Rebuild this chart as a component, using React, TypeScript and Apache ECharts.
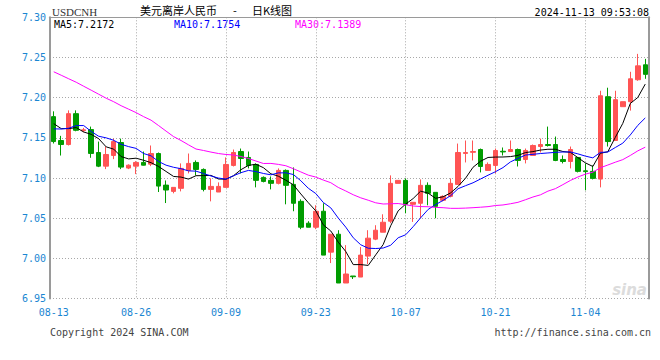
import React, { useEffect, useRef } from "react";
import * as echarts from "echarts";

const dates = [
  "08-13","08-14","08-15","08-16","08-17",
  "08-19","08-20","08-21","08-22","08-23","08-24",
  "08-26","08-27","08-28","08-29","08-30","08-31",
  "09-02","09-03","09-04","09-05","09-06","09-07",
  "09-09","09-10","09-11","09-12","09-13","09-14",
  "09-16","09-17","09-18","09-19","09-20","09-21",
  "09-23","09-24","09-25","09-26","09-27","09-28",
  "09-30","10-01","10-02","10-03","10-04","10-05",
  "10-07","10-08","10-09","10-10","10-11","10-12",
  "10-14","10-15","10-16","10-17","10-18","10-19",
  "10-21","10-22","10-23","10-24","10-25","10-26",
  "10-28","10-29","10-30","10-31","11-01","11-02",
  "11-04","11-05","11-06","11-07","11-08","11-09",
  "11-11","11-12","11-13",
];

const opens = [
  7.1764,7.1467,7.1417,7.1801,7.1590,7.1603,7.1318,7.1148,7.1281,7.1442,
  7.1124,7.1148,7.1194,7.1173,7.1305,7.0912,7.0834,7.0872,7.1095,7.1194,
  7.1107,7.0859,7.0826,7.0884,7.1157,7.1330,7.1256,7.1169,7.1008,7.0971,
  7.0934,7.1095,7.0921,7.0710,7.0438,7.0388,7.0587,7.0078,7.0301,6.9694,
  6.9781,6.9768,7.0029,7.0240,7.0326,7.0463,7.0934,7.0971,7.0673,7.0686,
  7.0909,7.0822,7.0723,7.0772,7.0921,7.1306,7.1320,7.1355,7.1095,7.1157,
  7.1333,7.1330,7.1355,7.1231,7.1281,7.1392,7.1417,7.1417,7.1231,7.1206,
  7.1256,7.1090,7.1083,7.0987,7.2012,7.1467,7.1888,7.1950,7.2223,7.2409,
];
const closes = [
  7.1454,7.1417,7.1801,7.1594,7.1600,7.1306,7.1148,7.1293,7.1454,7.1136,
  7.1160,7.1194,7.1160,7.1305,7.0900,7.0851,7.0884,7.1120,7.1182,7.1107,
  7.0859,7.0896,7.0896,7.1169,7.1318,7.1243,7.1157,7.0971,7.0958,7.0934,
  7.1095,7.0909,7.0686,7.0388,7.0388,7.0587,7.0041,7.0301,6.9694,6.9806,
  6.9772,7.0041,7.0252,7.0351,7.0450,7.0934,7.0971,7.0673,7.0698,7.0909,
  7.0810,7.0648,7.0772,7.0934,7.1318,7.1318,7.1330,7.1144,7.1169,7.1343,
  7.1325,7.1355,7.1219,7.1343,7.1405,7.1417,7.1405,7.1219,7.1206,7.1355,
  7.1083,7.1080,7.0996,7.2024,7.1454,7.1975,7.1950,7.2235,7.2396,7.2290,
];
const lows = [
  7.1430,7.1280,7.1405,7.1582,7.1570,7.1252,7.1136,7.1111,7.1235,7.1111,
  7.1111,7.1049,7.1157,7.1148,7.0826,7.0689,7.0810,7.0834,7.1058,7.1033,
  7.0834,7.0710,7.0826,7.0884,7.1144,7.1058,7.1120,7.0884,7.0946,7.0859,
  7.0921,7.0673,7.0587,7.0364,7.0388,7.0364,7.0041,6.9942,6.9694,6.9694,
  6.9744,6.9768,6.9930,7.0227,7.0326,7.0438,7.0934,7.0562,7.0454,7.0500,
  7.0661,7.0500,7.0710,7.0760,7.0921,7.1194,7.1219,7.1070,7.1095,7.1058,
  7.1281,7.1330,7.1144,7.1182,7.1281,7.1318,7.1392,7.1210,7.1182,7.1120,
  7.1070,7.0847,7.0983,7.0884,7.1392,7.1467,7.1888,7.1839,7.2210,7.2235,
];
const highs = [
  7.1830,7.1525,7.1842,7.1842,7.1624,7.1640,7.1454,7.1392,7.1491,7.1491,
  7.1170,7.1210,7.1330,7.1405,7.1318,7.0970,7.0884,7.1182,7.1305,7.1219,
  7.1120,7.0996,7.0946,7.1256,7.1355,7.1367,7.1330,7.1182,7.1020,7.1020,
  7.1120,7.1107,7.1132,7.0735,7.0463,7.0661,7.0686,7.0301,7.0351,7.0165,
  6.9781,7.0141,7.0351,7.0413,7.0549,7.1033,7.0971,7.0996,7.0698,7.0983,
  7.0946,7.0822,7.0785,7.0996,7.1429,7.1467,7.1467,7.1367,7.1194,7.1367,
  7.1380,7.1467,7.1367,7.1367,7.1417,7.1491,7.1640,7.1516,7.1281,7.1392,
  7.1256,7.1182,7.1157,7.2086,7.2124,7.2086,7.1950,7.2322,7.2545,7.2483,
];

const ma5Head = [7.1677, 7.1615, 7.1615, 7.1628];
const ma10Head = [7.1612, 7.1610, 7.1620, 7.1653, 7.1653, 7.1580, 7.1520, 7.1500, 7.1470];
const ma30Head = [
  7.2322, 7.2279, 7.2235, 7.2192, 7.2142, 7.2093, 7.2043, 7.1993, 7.1950, 7.1900,
  7.1857, 7.1814, 7.1764, 7.1720, 7.1653, 7.1584, 7.1516, 7.1467, 7.1413, 7.1361,
  7.1343, 7.1323, 7.1305, 7.1293, 7.1287, 7.1268, 7.1243, 7.1212, 7.1181,
];

const axisDates = ["08-13", "08-26", "09-09", "09-23", "10-07", "10-21", "11-04"];
const yMin = 6.95;
const yMax = 7.3;
const yStep = 0.05;

const maLabels = ["MA5:7.2172", "MA10:7.1754", "MA30:7.1389"];
const titleSymbol = "USDCNH";
const titleText = "美元离岸人民币";
const titleText2 = "日K线图";
const stamp = "2024-11-13 09:53:08";
const copyright = "Copyright 2024 SINA.COM";
const siteUrl = "http://finance.sina.com.cn";

function movingAverage(n: number, head: number[]) {
  return closes.map((_, i) => {
    if (i < head.length) return head[i];
    let s = 0;
    for (let k = i - n + 1; k <= i; k++) s += closes[k];
    return +(s / n).toFixed(4);
  });
}

const MONO = '"DejaVu Sans Mono", "Liberation Mono", monospace';
const BLUE = "#1a86d2";
const UP = "#ff5454";
const DOWN = "#009c00";

export default function App() {
  const ref = useRef<HTMLDivElement>(null);
  useEffect(() => {
    if (!ref.current) return;
    const chart = echarts.init(ref.current, null, { renderer: "svg" });
    const candles = opens.map((o, i) => [o, closes[i], lows[i], highs[i]]);
    const txt = (x: number, y: number, text: string, fill: string, font: string, align = "left") => ({
      type: "text",
      x,
      y,
      silent: true,
      style: {
        text,
        fill,
        font,
        align,
        textAlign: align,
        verticalAlign: "middle",
        textVerticalAlign: "middle",
      },
    });
    chart.setOption({
      animation: false,
      backgroundColor: "#ffffff",
      grid: { left: 50, top: 17.3, width: 599, height: 281.3, outerBoundsMode: "none", containLabel: false },
      xAxis: [
        {
          type: "category",
          data: dates,
          boundaryGap: true,
          axisLine: { show: false },
          axisTick: { show: false },
          axisLabel: {
            interval: (_i: number, v: string) => axisDates.includes(v),
            color: BLUE,
            fontFamily: MONO,
            fontSize: 10,
            margin: 9,
          },
          splitLine: {
            show: true,
            alignWithLabel: true,
            interval: (i: number, v: string) => i > 0 && axisDates.includes(v),
            lineStyle: { color: "#a8a8a8", type: [1, 2], width: 1 },
          },
        },
        {
          type: "category",
          data: dates,
          position: "top",
          axisLine: { show: true, lineStyle: { color: "#9a9a9a", width: 1 } },
          axisTick: { show: false },
          axisLabel: { show: false },
          splitLine: { show: false },
        },
      ],
      yAxis: [
        {
          type: "value",
          min: yMin,
          max: yMax,
          interval: yStep,
          position: "left",
          axisLine: { show: true, lineStyle: { color: "#9a9a9a", width: 2 } },
          axisTick: { show: false },
          axisLabel: {
            formatter: (v: number) => v.toFixed(2),
            color: BLUE,
            fontFamily: MONO,
            fontSize: 10,
            margin: 4,
          },
          splitLine: { show: true, lineStyle: { color: "#a8a8a8", type: [1, 2], width: 1 } },
        },
        {
          type: "value",
          min: yMin,
          max: yMax,
          interval: yStep,
          position: "right",
          axisLine: { show: true, lineStyle: { color: "#9a9a9a", width: 2 } },
          axisTick: { show: false },
          axisLabel: { show: false },
          splitLine: { show: false },
        },
      ],
      series: [
        {
          type: "candlestick",
          data: candles,
          barWidth: 5,
          itemStyle: {
            color: UP,
            color0: DOWN,
            borderColor: UP,
            borderColor0: DOWN,
            borderColorDoji: UP,
            borderWidth: 1,
          },
          silent: true,
        },
        {
          type: "line",
          data: movingAverage(5, ma5Head),
          symbol: "none",
          lineStyle: { color: "#000000", width: 1 },
          silent: true,
        },
        {
          type: "line",
          data: movingAverage(10, ma10Head),
          symbol: "none",
          lineStyle: { color: "#0000ff", width: 1 },
          silent: true,
        },
        {
          type: "line",
          data: movingAverage(30, ma30Head),
          symbol: "none",
          lineStyle: { color: "#ff00ff", width: 1 },
          silent: true,
        },
      ],
      graphic: [
        txt(52, 12, titleSymbol, "#333333", '11px "Liberation Serif", serif'),
        txt(140, 10, titleText, "#000000", '11px "Noto Sans CJK SC", sans-serif'),
        txt(235, 10, "-", "#000000", '11px "Noto Sans CJK SC", sans-serif', "center"),
        txt(252, 10, titleText2, "#000000", '11px "Noto Sans CJK SC", sans-serif'),
        txt(649, 12, stamp, "#000000", `10px ${MONO}`, "right"),
        txt(54, 24, maLabels[0], "#000000", `10px ${MONO}`),
        txt(174, 24, maLabels[1], "#0000ff", `10px ${MONO}`),
        txt(295, 24, maLabels[2], "#ff00ff", `10px ${MONO}`),
        txt(50, 332, copyright, "#444444", `10px ${MONO}`),
        txt(651, 332, siteUrl, "#444444", `10px ${MONO}`, "right"),
        txt(647, 290, "sina", "#dcdcdc", 'italic bold 15px "DejaVu Sans", sans-serif', "right"),
      ],
    });
    return () => chart.dispose();
  }, []);
  return (
    <div
      ref={ref}
      style={{ position: "fixed", left: 0, top: 0, width: 660, height: 360, background: "#fff" }}
    />
  );
}
